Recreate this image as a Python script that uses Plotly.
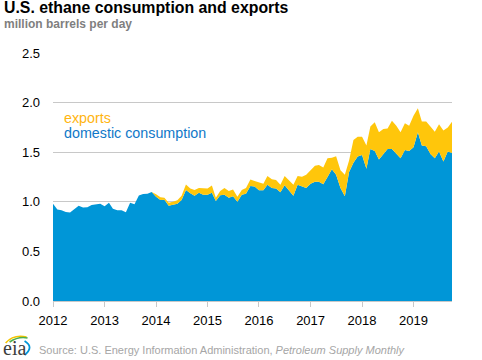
import pandas as pd
import plotly.graph_objects as go

months = pd.date_range("2012-01-01", "2019-10-01", freq="MS")
consumption = [
 .98,.922,.915,.898,.892,.929,.959,.942,.946,.969,.973,.98,
 .956,.99,.929,.915,.915,.895,.99,.976,1.064,1.078,1.081,1.098,
 1.05,1.017,1.02,.96,.97,.98,1.017,1.12,1.085,1.06,1.09,1.07,
 1.07,1.09,1.007,1.065,1.07,1.04,1.055,1.0,1.07,1.08,1.16,1.155,
 1.117,1.117,1.173,1.14,1.133,1.097,1.167,1.117,1.06,1.173,1.16,1.14,
 1.183,1.203,1.203,1.177,1.25,1.327,1.273,1.14,1.057,1.3,1.393,1.457,
 1.473,1.333,1.533,1.513,1.427,1.477,1.533,1.533,1.483,1.44,1.523,1.513,
 1.55,1.7,1.567,1.56,1.483,1.44,1.507,1.407,1.507,1.493]
exports = [
 0,0,0,0,0,0,0,0,0,0,0,0,
 0,0,0,0,0,0,0,0,0,0,0,0,
 .025,.028,.02,.03,.03,.035,.043,.055,.05,.06,.05,.07,
 .065,.075,.033,.045,.07,.07,.07,.05,.05,.06,.065,.055,
 .076,.066,.087,.087,.087,.076,.093,.1,.113,.087,.093,.133,
 .14,.16,.167,.17,.19,.116,.187,.177,.216,.117,.23,.2,
 .184,.234,.227,.29,.273,.256,.207,.284,.284,.26,.27,.254,
 .317,.243,.243,.25,.277,.267,.276,.313,.243,.314]
y_ticks = [0, .5, 1, 1.5, 2, 2.5]
y_labels = ["0.0", "0.5", "1.0", "1.5", "2.0", "2.5"]

W, H = 482, 360
L, R, T, B = 52.5, 452.5, 53, 301
FONT = "Liberation Sans"

def px(x):
    return (x - L) / (R - L)
def py(y):
    return (B - y) / (B - T)

fig = go.Figure()
fig.add_trace(go.Scatter(x=months, y=consumption, name="domestic consumption", mode="lines",
                         stackgroup="a", line=dict(width=0), fillcolor="#0096D7"))
fig.add_trace(go.Scatter(x=months, y=exports, name="exports", mode="lines",
                         stackgroup="a", line=dict(width=0), fillcolor="#FFC60B"))

def text(x, y, s, size, color, weight="normal"):
    fig.add_annotation(x=px(x), y=py(y), xref="paper", yref="paper", text=s, showarrow=False,
                       xanchor="left", yanchor="middle",
                       font=dict(family=FONT, size=size, color=color, weight=weight))

text(1, 7.5, "U.S. ethane consumption and exports", 15.85, "#000000", "bold")
text(1, 23.5, "million barrels per day", 12, "#7F7F7F", "bold")
text(62, 117.5, "exports", 14.3, "#FFB511")
text(62, 132.5, "domestic consumption", 14.3, "#0F78C8")
text(36.5, 350, "Source: U.S. Energy Information Administration, <i>Petroleum Supply Monthly</i>", 11, "#A6A6A6")
fig.add_annotation(x=px(0.5), y=py(347.5), xref="paper", yref="paper", text="eia", showarrow=False,
                   xanchor="left", yanchor="middle",
                   font=dict(family="Liberation Serif", size=20, color="#3C3C3C"))

def arc(d, color, width):
    fig.add_shape(type="path", xref="paper", yref="paper", path=d, line=dict(color=color, width=width))

def P(points):
    return "M{},{} Q{},{} {},{}".format(*[v for p in points for v in (px(p[0]), py(p[1]))])

arc(P([(5, 343), (13, 334), (26, 337)]), "#F5C400", 1.6)
arc(P([(9, 342), (18, 336), (27, 338)]), "#4CAF50", 1.6)
arc(P([(24, 341), (34, 347), (24, 355)]), "#0096D7", 1.8)

fig.update_layout(
    width=W, height=H, autosize=False, showlegend=False,
    paper_bgcolor="white", plot_bgcolor="white",
    margin=dict(l=L, r=W - R, t=T, b=H - B),
    font=dict(family=FONT, size=13, color="#000000"),
    xaxis=dict(type="date", range=[months[0], months[-1]], tick0="2012-01-01", dtick="M12",
               tickformat="%Y", ticks="outside", ticklen=5, tickcolor="#C8C8C8", tickwidth=1,
               showgrid=False, showline=True, linecolor="#C8C8C8", linewidth=1,
               ticklabelstandoff=2, tickfont=dict(size=13)),
    yaxis=dict(range=[0, 2.5], tickmode="array", tickvals=y_ticks, ticktext=y_labels,
               showgrid=True, gridcolor="#C8C8C8", gridwidth=1, zeroline=False,
               ticks="", ticklabelstandoff=12, tickfont=dict(size=13)),
)
fig.write_html("out.html", post_script="document.body.style.margin='0';",
               config=dict(displayModeBar=False))
